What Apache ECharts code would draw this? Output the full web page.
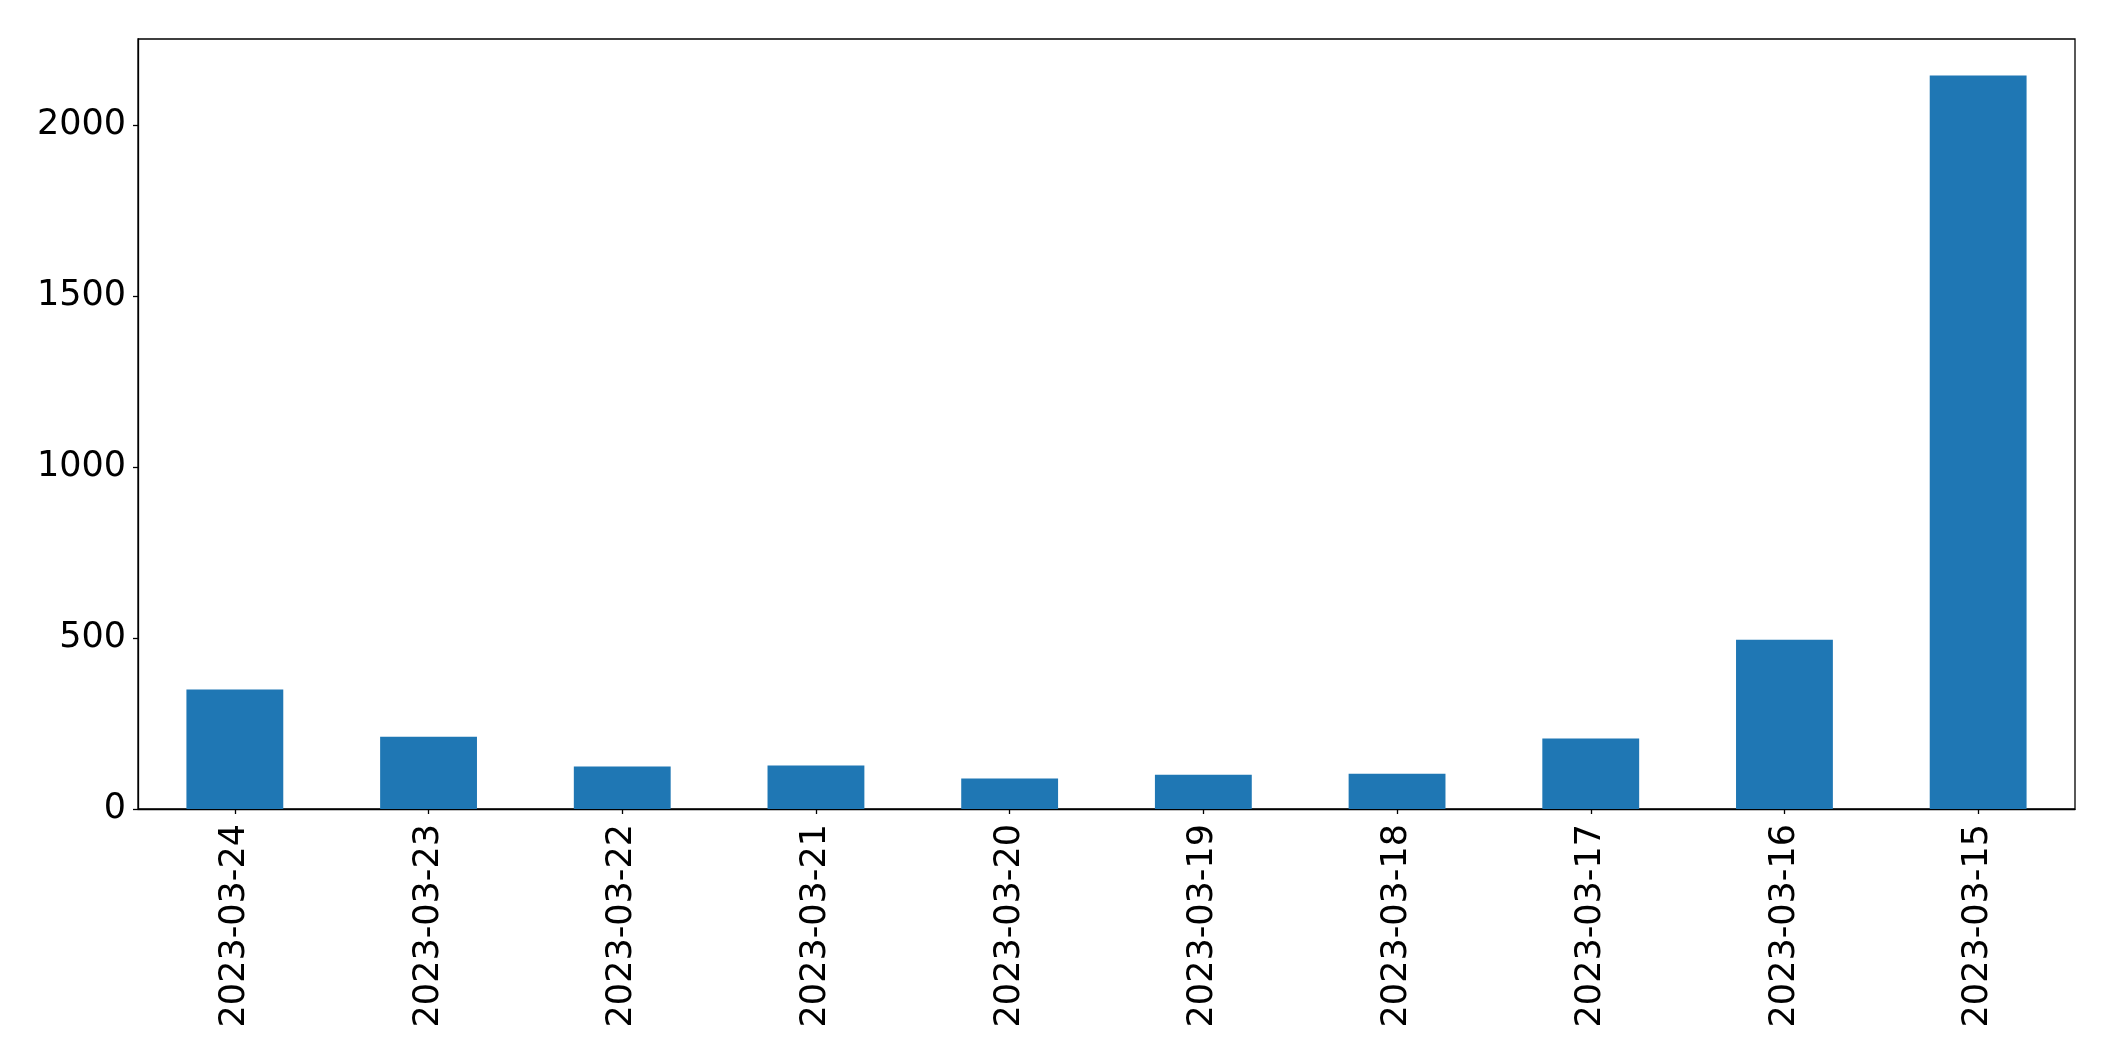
<!DOCTYPE html>
<html>
<head>
<meta charset="utf-8">
<script src="https://cdn.jsdelivr.net/npm/echarts@6/dist/echarts.min.js"></script>
<style>html,body{margin:0;padding:0;background:#fff;}#c{width:2115px;height:1061px;}</style>
</head>
<body>
<div id="c"></div>
<script>
const categories = ['2023-03-24','2023-03-23','2023-03-22','2023-03-21','2023-03-20','2023-03-19','2023-03-18','2023-03-17','2023-03-16','2023-03-15'];
const values = [349, 211, 124, 127, 89, 100, 103, 206, 495, 2144];
const yTicks = [0, 500, 1000, 1500, 2000];
const yMax = 2251;

const chart = echarts.init(document.getElementById('c'), null, {renderer: 'canvas'});
const font = 'DejaVu Sans';
chart.setOption({
  animation: false,
  backgroundColor: '#ffffff',
  grid: {left: 138, top: 39, width: 1937, height: 770, show: true, borderColor: '#000', borderWidth: 1.3, backgroundColor: 'transparent'},
  xAxis: {
    type: 'category',
    data: categories,
    axisLine: {show: true, lineStyle: {color: '#000', width: 1.3}},
    axisTick: {show: true, alignWithLabel: true, length: 5, lineStyle: {color: '#000', width: 1.3}},
    axisLabel: {rotate: 90, color: '#000', fontFamily: font, fontSize: 35, margin: 15, interval: 0},
    splitLine: {show: false}
  },
  yAxis: {
    type: 'value',
    min: 0,
    max: yMax,
    axisLine: {show: true, lineStyle: {color: '#000', width: 1.3}},
    axisTick: {show: true, length: 5, lineStyle: {color: '#000', width: 1.3}, customValues: yTicks},
    axisLabel: {color: '#000', fontFamily: font, fontSize: 35, margin: 12, customValues: yTicks, formatter: function (v) { return String(v); }},
    splitLine: {show: false}
  },
  series: [{
    type: 'bar',
    data: values,
    barWidth: '50%',
    itemStyle: {color: '#1f77b4'}
  }]
});
</script>
</body>
</html>
